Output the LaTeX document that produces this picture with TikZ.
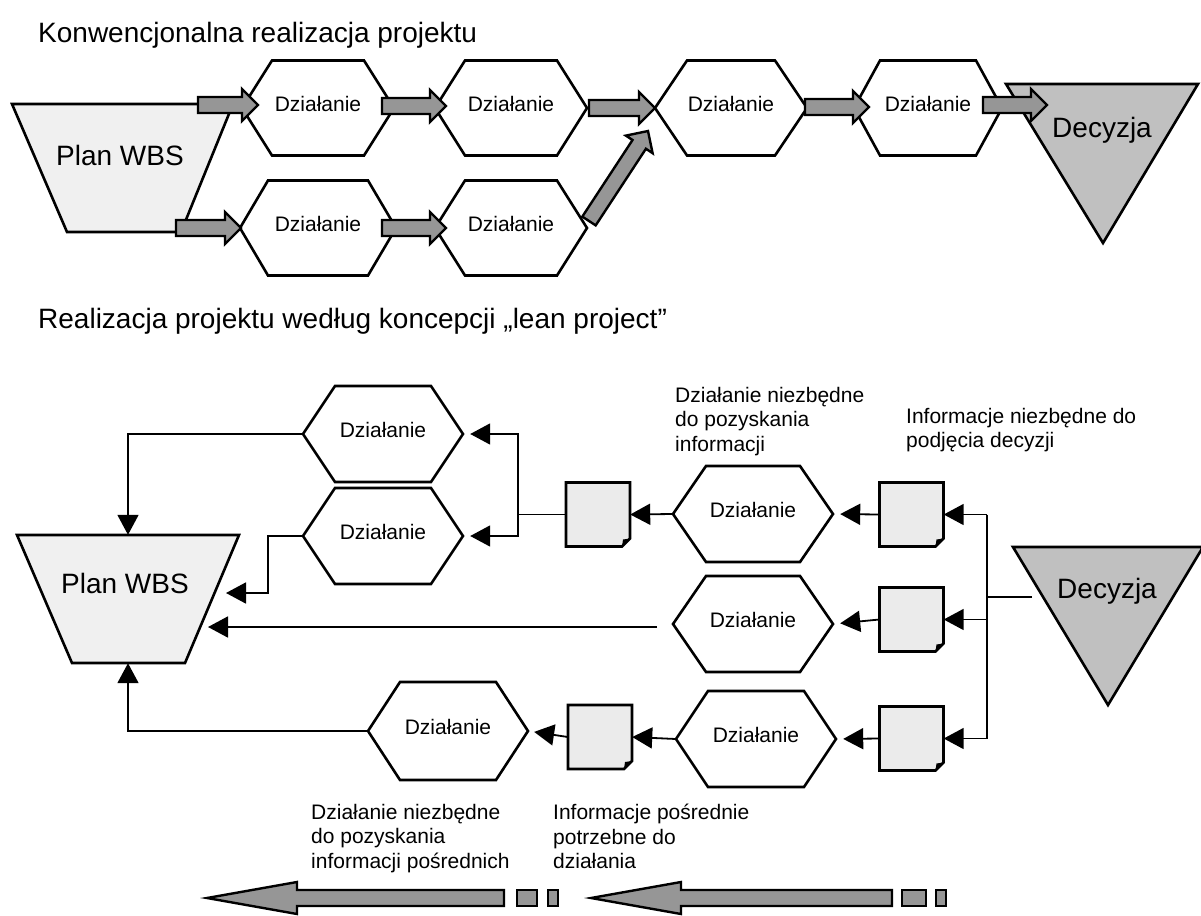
\documentclass[tikz,border=0pt]{standalone}
\usepackage{fontspec}
\setmainfont{Liberation Sans}
\usetikzlibrary{arrows.meta,calc}

\definecolor{arrowgray}{HTML}{969696}
\definecolor{decgray}{HTML}{C0C0C0}
\definecolor{wbsfill}{HTML}{F0F0F0}
\definecolor{docfill}{HTML}{EBEBEB}

\tikzset{
  outline/.style={line width=2.6pt, line join=miter},
  hexshape/.style={outline, fill=white},
  hextext/.style={inner sep=0pt, font=\fontsize{21}{25}\selectfont, text depth=8pt},
  bigtext/.style={inner sep=0pt, font=\fontsize{28}{33}\selectfont},
  title/.style={font=\fontsize{28}{33}\selectfont, anchor=base west, inner sep=0pt},
  lbl/.style={font=\fontsize{21}{24.5}\selectfont, anchor=north west, inner sep=0pt, align=left},
  blockarrow/.style={line width=2.4pt, fill=arrowgray, line join=miter},
  conn/.style={line width=1.8pt},
  arr/.style={conn, -{Triangle[length=20pt,width=21pt]}},
}

% hexagonal activity box: name, cx, cy, half width, half height, slant, text
\newcommand\hexbox[7]{%
  \draw[hexshape] (#2-#4,#3) -- (#2-#4+#6,#3-#5) -- (#2+#4-#6,#3-#5) -- (#2+#4,#3)
     -- (#2+#4-#6,#3+#5) -- (#2-#4+#6,#3+#5) -- cycle;
  \node[hextext, minimum width=2*#4, minimum height=2*#5] (#1) at (#2,#3) {#7};
}

% document sheet with folded corner: name, cx, cy
\newcommand\docbox[3]{%
  \draw[outline, fill=docfill] (#2-32,#3-32) -- (#2+32,#3-32) -- (#2+32,#3+24)
     -- (#2+24,#3+32) -- (#2-32,#3+32) -- cycle;
  \fill (#2+32,#3+24) -- (#2+24,#3+32) -- (#2+25,#3+25) -- cycle;
  \node[inner sep=0pt, minimum width=64, minimum height=64] (#1) at (#2,#3) {};
}

% thick grey block arrow between two named points
\newcommand\blockarrow[2]{%
  \pgfpointdiff{\pgfpointanchor{#1}{center}}{\pgfpointanchor{#2}{center}}%
  \pgfgetlastxy{\bax}{\bay}%
  \pgfmathsetmacro\baang{atan2(\bay,\bax)}%
  \pgfmathsetmacro\balen{veclen(\bax,\bay)}%
  \begin{scope}[shift={(#1)}, rotate=\baang]
    \draw[blockarrow] (0,-8) -- (\balen-16,-8) -- (\balen-16,-16) -- (\balen,0)
       -- (\balen-16,16) -- (\balen-16,8) -- (0,8) -- cycle;
  \end{scope}}

\begin{document}
\begin{tikzpicture}[x=1pt,y=-1pt]
\useasboundingbox (0,0) rectangle (1201,915);

% ---------------- conventional project ----------------
\node[title] (t1) at (38,43) {Konwencjonalna realizacja projektu};

\draw[outline, fill=wbsfill] (12,104) -- (233,104) -- (181,232) -- (67,232) -- cycle;
\node[bigtext, anchor=base] (wbs1) at (120,165) {Plan WBS};

\hexbox{h1}{318}{108}{76}{47.5}{30}{Działanie}
\hexbox{h2}{511}{108}{76}{47.5}{30}{Działanie}
\hexbox{h3}{731}{108}{76}{47.5}{32}{Działanie}
\hexbox{h4}{928}{108}{74}{47.5}{26}{Działanie}
\hexbox{h5}{318}{228}{78}{47.5}{28}{Działanie}
\hexbox{h6}{511}{228}{76}{47.5}{30}{Działanie}

\draw[outline, fill=decgray] (1006,84) -- (1198,84) -- (1103,243) -- cycle;
\node[bigtext, anchor=base] (dec1) at (1102,137) {Decyzja};

\coordinate (p1) at (198,105);  \coordinate (q1) at (258,105);
\coordinate (p2) at (176,228);  \coordinate (q2) at (241,228);
\coordinate (p3) at (382,106);  \coordinate (q3) at (446,106);
\coordinate (p4) at (382,228);  \coordinate (q4) at (446,228);
\coordinate (p5) at (589,108);  \coordinate (q5) at (655,108);
\coordinate (p6) at (805,107);  \coordinate (q6) at (869,107);
\coordinate (p7) at (983,105);  \coordinate (q7) at (1047,105);
\coordinate (p8) at (589,221);  \coordinate (q8) at (648,131);
\blockarrow{p1}{q1}
\blockarrow{p2}{q2}
\blockarrow{p3}{q3}
\blockarrow{p4}{q4}
\blockarrow{p5}{q5}
\blockarrow{p6}{q6}
\blockarrow{p7}{q7}
\blockarrow{p8}{q8}

% ---------------- lean project ----------------
\node[title] (t2) at (38,328) {Realizacja projektu według koncepcji „lean project”};

\draw[outline, fill=wbsfill] (17,535) -- (239,535) -- (185,663) -- (72,663) -- cycle;
\node[inner sep=0pt, minimum width=222, minimum height=128] (wbs2) at (128,599) {};
\node[bigtext, anchor=base] (wbs2txt) at (125,593) {Plan WBS};

\hexbox{hA}{383}{434}{80}{48}{32}{Działanie}
\hexbox{hB}{383}{536}{80}{48}{32}{Działanie}
\hexbox{hC}{448}{731}{80}{49}{32}{Działanie}
\hexbox{hE}{753}{514}{80}{48}{33}{Działanie}
\hexbox{hD}{753}{624}{80}{48}{33}{Działanie}
\hexbox{hF}{756}{739}{80}{48}{32}{Działanie}

\docbox{d1}{598}{514.5}
\docbox{d2}{600}{737}
\docbox{d3}{911.5}{514.5}
\docbox{d4}{911.5}{619.5}
\docbox{d5}{911.5}{738.5}

\draw[outline, fill=decgray] (1013,547) -- (1203,547) -- (1108,705) -- cycle;
\node[bigtext, anchor=base] (dec2) at (1107,598) {Decyzja};

% connectors towards the WBS plan
\draw[arr] (hA.west) -| (wbs2.north);
\coordinate (w2a) at (226,593);
\draw[arr] (hB.west) -- ++(-35,0) |- (w2a);
\coordinate (dl) at (657,627);
\coordinate (w2b) at (208,627);
\draw[arr] (dl) -- (w2b);
\draw[arr] (hC.west) -| (wbs2.south);

% information sheet feeding two activities
\coordinate (k1) at ($(d1.west)+(-48,0)$);
\draw[conn] (d1.west) -- (k1);
\draw[arr, shorten >=7pt] (k1) |- (hA.east);
\draw[arr, shorten >=7pt] (k1) |- (hB.east);

\draw[arr] (hE.west) -- (d1.east);
\draw[arr, shorten >=6pt] (d2.west) -- (hC.east);
\draw[arr] (hF.west) -- (d2.east);
\draw[arr, shorten >=7pt] (d3.west) -- (hE.east);
\draw[arr, shorten >=7pt] (d4.west) -- (hD.east);
\draw[arr, shorten >=7pt] (d5.west) -- (hF.east);

% decision fans out to the information sheets
\coordinate (dc) at (1032,597);
\coordinate (k2) at (987,597);
\draw[conn] (dc) -- (k2);
\draw[conn] (k2 |- d3.east) -- (k2 |- d5.east);
\draw[arr] (k2 |- d3.east) -- (d3.east);
\draw[arr] (k2 |- d4.east) -- (d4.east);
\draw[arr] (k2 |- d5.east) -- (d5.east);

% descriptions
\node[lbl] (n1) at (675,387) {Działanie niezbędne\\do pozyskania\\informacji};
\node[lbl] (n2) at (906,408) {Informacje niezbędne do\\podjęcia decyzji};
\node[lbl] (n3) at (311,804) {Działanie niezbędne\\do pozyskania\\informacji pośrednich};
\node[lbl] (n4) at (553,804) {Informacje pośrednie\\potrzebne do\\działania};

% direction arrows at the bottom
\draw[blockarrow] (207,898) -- (297,882) -- (297,890) -- (504,890) -- (504,906)
   -- (297,906) -- (297,914) -- cycle;
\draw[blockarrow] (517,890) rectangle (537,906);
\draw[blockarrow] (548,890) rectangle (558,906);
\draw[blockarrow] (591,898) -- (681,882) -- (681,890) -- (892,890) -- (892,906)
   -- (681,906) -- (681,914) -- cycle;
\draw[blockarrow] (902,890) rectangle (926,906);
\draw[blockarrow] (936,890) rectangle (946,906);
\end{tikzpicture}
\end{document}
